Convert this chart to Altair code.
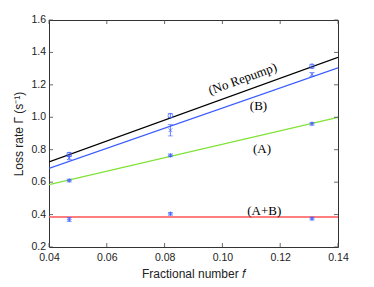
import altair as alt
import pandas as pd

# fitted lines: value at f=0.04 and f=0.14
line_series = ["No Repump", "B", "A", "A+B"]
line_f = [0.04, 0.14]
line_start = [0.725, 0.685, 0.585, 0.385]
line_end = [1.37, 1.305, 1.0, 0.385]
line_colors = ["#000000", "#3a5cff", "#7ee233", "#ff5555"]

# measured points
f_vals = [0.047, 0.082, 0.131]
norepump_y = [0.77, 1.01, 1.315]
norepump_err = [0.012, 0.012, 0.012]
b_y = [0.75, 0.92, 1.265]
b_err = [0.012, 0.035, 0.012]
a_y = [0.61, 0.765, 0.96]
a_err = [0.008, 0.008, 0.008]
ab_y = [0.37, 0.405, 0.375]
ab_err = [0.012, 0.008, 0.008]

# axis ticks
x_ticks = [0.04, 0.06, 0.08, 0.10, 0.12, 0.14]
y_ticks = [0.2, 0.4, 0.6, 0.8, 1.0, 1.2, 1.4, 1.6]
y_tick_labels = ["0.2", "0.4", "0.6", "0.8", "1.0", "1.2", "1.4", "1.6"]

# labels
label_text = ["(No Repump)", "(B)", "(A)", "(A+B)"]
label_f = [0.107, 0.1125, 0.1137, 0.1145]
label_y = [1.236, 1.069, 0.804, 0.42]
label_angle = [340, 0, 0, 0]

W, H = 289, 227

lines_rows = []
for s, y0, y1 in zip(line_series, line_start, line_end):
    lines_rows.append({"series": s, "f": line_f[0], "y": y0})
    lines_rows.append({"series": s, "f": line_f[1], "y": y1})
lines_df = pd.DataFrame(lines_rows)

pts_rows = []
for s, ys, es in [("No Repump", norepump_y, norepump_err), ("B", b_y, b_err),
                  ("A", a_y, a_err), ("A+B", ab_y, ab_err)]:
    for f, y, e in zip(f_vals, ys, es):
        pts_rows.append({"series": s, "f": f, "y": y, "lo": y - e, "hi": y + e})
pts_df = pd.DataFrame(pts_rows)

lab_df = pd.DataFrame({"text": label_text, "f": label_f, "y": label_y, "angle": label_angle})
yt_df = pd.DataFrame({"y": y_ticks, "lab": y_tick_labels})
xt_df = pd.DataFrame({"f": x_ticks})

xscale = alt.Scale(domain=[0.04, 0.14], nice=False, zero=False)
yscale = alt.Scale(domain=[0.2, 1.6], nice=False, zero=False)

xaxis = alt.Axis(values=x_ticks, format=".2f",
                 title="Fractional number 𝑓", grid=False, domain=False,
                 ticks=False, labelPadding=5,
                 labelOverlap=False, labelFlush=False,
                 labelFont="Liberation Sans", labelFontSize=10.5, labelColor="#222",
                 titleFont="Liberation Sans", titleFontSize=12, titleFontWeight="normal",
                 titleColor="#222", titlePadding=6)
yaxis = alt.Axis(values=y_ticks, title="Loss rate Γ (s⁻¹)", grid=False, domain=False,
                 ticks=False, labels=False,
                 titleFont="Liberation Sans", titleFontSize=12, titleFontWeight="normal",
                 titleColor="#222", titlePadding=24)

color_scale = alt.Scale(domain=line_series, range=line_colors)

lines = alt.Chart(lines_df).mark_line(strokeWidth=1.3, clip=True).encode(
    x=alt.X("f:Q", scale=xscale, axis=xaxis),
    y=alt.Y("y:Q", scale=yscale, axis=yaxis),
    color=alt.Color("series:N", scale=color_scale, legend=None),
    detail="series:N",
)

# inward ticks
ytick_l = alt.Chart(yt_df).mark_rule(color="#444", strokeWidth=0.8).encode(
    y="y:Q", x=alt.value(0), x2=alt.value(4))
ytick_r = alt.Chart(yt_df).mark_rule(color="#444", strokeWidth=0.8).encode(
    y="y:Q", x=alt.value(W - 4), x2=alt.value(W))
xtick_b = alt.Chart(xt_df).mark_rule(color="#444", strokeWidth=0.8).encode(
    x="f:Q", y=alt.value(H - 4), y2=alt.value(H))
xtick_t = alt.Chart(xt_df).mark_rule(color="#444", strokeWidth=0.8).encode(
    x="f:Q", y=alt.value(0), y2=alt.value(4))
ylabels = alt.Chart(yt_df).mark_text(font="Liberation Sans", fontSize=10.5, color="#222",
                                     align="right", baseline="middle").encode(
    y="y:Q", x=alt.value(-3), text="lab:N")

err = alt.Chart(pts_df).mark_rule(color="#3a5cff", strokeWidth=0.8).encode(
    x="f:Q", y="lo:Q", y2="hi:Q")
cap_lo = alt.Chart(pts_df).mark_tick(color="#3a5cff", size=5, thickness=0.8, orient="horizontal").encode(
    x="f:Q", y="lo:Q")
cap_hi = alt.Chart(pts_df).mark_tick(color="#3a5cff", size=5, thickness=0.8, orient="horizontal").encode(
    x="f:Q", y="hi:Q")

star = "M-1,0L1,0M0,-1L0,1M-0.7,-0.7L0.7,0.7M-0.7,0.7L0.7,-0.7"
pts = alt.Chart(pts_df).mark_point(filled=False, size=22, strokeWidth=1, color="#3a5cff").encode(
    x="f:Q", y="y:Q",
    shape=alt.Shape("series:N", scale=alt.Scale(domain=line_series,
                    range=["circle", "M-0.8,-0.8L0.8,0.8M-0.8,0.8L0.8,-0.8", star, star]), legend=None),
)

labels = alt.Chart(lab_df).mark_text(font="Liberation Serif", fontSize=13, color="#000").encode(
    x="f:Q", y="y:Q", text="text:N", angle=alt.Angle("angle:Q", scale=None))

chart = alt.layer(lines, ytick_l, ytick_r, xtick_b, xtick_t, ylabels,
                  err, cap_lo, cap_hi, pts, labels).properties(
    width=W, height=H,
    autosize=alt.AutoSizeParams(type="none"),
    padding={"left": 41, "top": 12, "right": 20, "bottom": 34},
).configure_view(stroke="#333", strokeWidth=1)

chart.save("out.html", embed_options={"renderer": "svg", "actions": False})
